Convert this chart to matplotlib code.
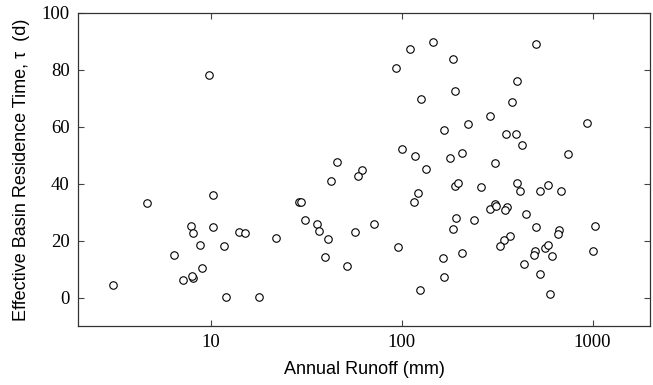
import numpy as np
import matplotlib.pyplot as plt

# annual runoff (mm) and effective basin residence time (d)
runoff = [
    3.06, 4.61, 6.40, 7.13, 7.79, 8.04, 8.0, 7.9, 8.72, 8.89,
    9.76, 10.2, 10.2, 13.9, 15.1, 11.6, 11.9, 17.8, 21.9, 28.8,
    29.6, 31.2, 35.9, 36.6, 41.0, 56.6, 71.1, 39.5, 51.2, 42.6,
    45.8, 62.1, 58.7, 95.2, 100.4, 117.6, 134.3, 178.2, 206, 424,
    307, 740, 121.3, 116.1, 189, 197, 261, 399, 415, 530,
    581, 682, 289, 307, 313, 354, 348, 447, 193, 186,
    239, 504, 663, 658, 1030, 1005, 368, 342, 327, 497,
    490, 562, 584, 614, 439, 533, 595, 164, 206, 166,
    124.5, 146, 110, 506, 185, 403, 190, 125.3, 376, 289,
    221, 167, 351, 395, 936, 92.9,
]
tau = [
    4.3, 33.4, 14.8, 6.1, 25.0, 22.8, 6.7, 7.6, 18.6, 10.5,
    78.2, 36.0, 24.7, 23.0, 22.8, 18.1, 0.2, 0.1, 20.9, 33.5,
    33.5, 27.1, 26.0, 23.3, 20.4, 23.0, 25.8, 14.2, 11.0, 40.8,
    47.7, 44.9, 42.6, 17.9, 52.3, 49.9, 45.3, 48.9, 50.9, 53.7,
    47.4, 50.6, 36.6, 33.5, 39.1, 40.1, 38.9, 40.1, 37.6, 37.6,
    39.6, 37.6, 31.2, 32.7, 32.0, 31.8, 30.6, 29.4, 28.0, 24.2,
    27.2, 24.9, 23.7, 22.3, 25.0, 16.3, 21.6, 20.1, 18.1, 16.3,
    14.9, 17.5, 18.4, 14.7, 11.8, 8.3, 1.4, 13.8, 15.6, 7.1,
    2.6, 89.7, 87.4, 89.1, 83.8, 76.2, 72.7, 69.7, 68.7, 63.9,
    61.0, 58.9, 57.6, 57.6, 61.2, 80.7,
]

fig = plt.figure(figsize=(6.53, 3.85), dpi=100)
ax = fig.add_axes([78 / 653, 1 - 326 / 385, (650 - 78) / 653, (326 - 13) / 385])

ax.plot(runoff, tau, linestyle='none', marker='o', markersize=5.4,
        markerfacecolor='white', markeredgecolor='black', markeredgewidth=0.8)

ax.set_xscale('log')
ax.set_xlim(2, 2000)
ax.set_ylim(-10, 100)
ax.set_xticks([10, 100, 1000])
ax.set_xticklabels(['10', '100', '1000'])
ax.set_yticks([0, 20, 40, 60, 80, 100])
ax.minorticks_off()

ax.tick_params(direction='in', top=True, right=True, length=4, width=0.8,
               color='#444444', pad=6)
for lbl in ax.get_xticklabels() + ax.get_yticklabels():
    lbl.set_family('Liberation Serif')
    lbl.set_fontsize(13.5)
for sp in ax.spines.values():
    sp.set_linewidth(0.9)
    sp.set_color('#333333')

ax.set_xlabel('Annual Runoff (mm)', family='Liberation Sans', fontsize=13, labelpad=7)
ax.set_ylabel('Effective Basin Residence Time, τ  (d)', family='Liberation Sans',
              fontsize=13, labelpad=8)

fig.savefig('out.png', dpi=100)
